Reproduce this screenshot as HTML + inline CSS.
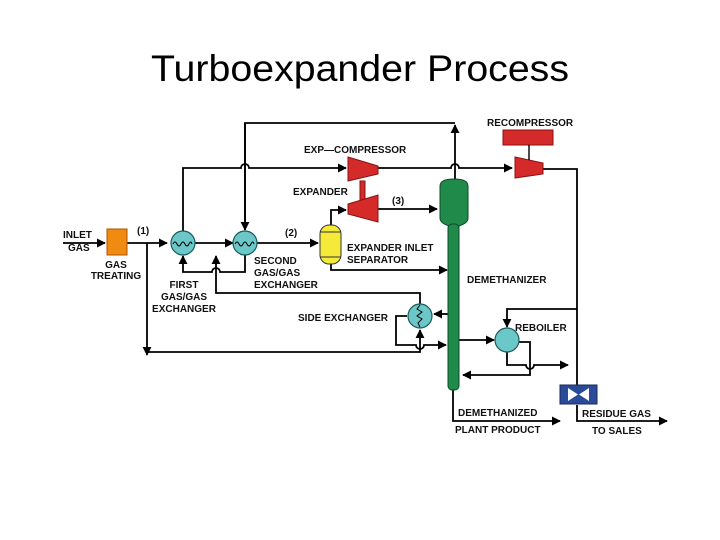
<!DOCTYPE html>
<html><head><meta charset="utf-8"><style>
html,body{margin:0;padding:0;background:#fff;}
svg{display:block;}
.t{font-family:"Liberation Sans",Arial,sans-serif;font-weight:bold;font-size:10px;fill:#111;}
</style></head><body>
<svg width="720" height="540" viewBox="0 0 720 540" xmlns="http://www.w3.org/2000/svg">
<defs>
<marker id="a" viewBox="0 0 10 10" refX="9" refY="5" markerWidth="5" markerHeight="5" orient="auto"><path d="M0,0 L10,5 L0,10 z" fill="#000"/></marker>
</defs>
<text x="360" y="81" text-anchor="middle" font-family="Liberation Sans, sans-serif" font-size="37" fill="#000" textLength="418" lengthAdjust="spacingAndGlyphs">Turboexpander Process</text>
<g stroke="#000" stroke-width="1.8" fill="none">
<path d="M63,243 H105" marker-end="url(#a)"/>
<path d="M127,243 H167" marker-end="url(#a)"/>
<path d="M147,243 V355" marker-end="url(#a)"/>
<path d="M191,243 H233" marker-end="url(#a)"/>
<path d="M257,243 H318" marker-end="url(#a)"/>
<path d="M245,230 V123 H455"/>
<path d="M245,123 V230" marker-end="url(#a)"/>
<path d="M455,180 V125" marker-end="url(#a)"/>
<path d="M183,231 V168 H241 a4,4 0 0 1 8,0 H346" marker-end="url(#a)"/>
<path d="M245,255 V272 H220 a4,4 0 0 0 -8,0 H183 V256" marker-end="url(#a)"/>
<path d="M420,304 V293 H216 V256" marker-end="url(#a)"/>
<path d="M331,225 V210 H346" marker-end="url(#a)"/>
<path d="M331,264 V270 H447" marker-end="url(#a)"/>
<path d="M378,209 H437" marker-end="url(#a)"/>
<path d="M378,168 H451 a4,4 0 0 1 8,0 H512" marker-end="url(#a)"/>
<path d="M543,169 H577 V395" marker-end="url(#a)"/>
<path d="M577,309 H507 V327" marker-end="url(#a)"/>
<path d="M459,340 H494" marker-end="url(#a)"/>
<path d="M507,352 V365 H526 a4,4 0 0 0 8,0 H568" marker-end="url(#a)"/>
<path d="M519,342 H530 V375 H463" marker-end="url(#a)"/>
<path d="M448,314 H434" marker-end="url(#a)"/>
<path d="M407,316 H396 V345 H416 a4,4 0 0 0 8,0 H446" marker-end="url(#a)"/>
<path d="M147,352 H420 V330" marker-end="url(#a)"/>
<path d="M453,390 V421 H560" marker-end="url(#a)"/>
<path d="M577,405 V421 H667" marker-end="url(#a)"/>
</g>
<rect x="107" y="229" width="20" height="26" fill="#f08a10" stroke="#b05000"/>
<g fill="#6cc8c8" stroke="#1a5a5a" stroke-width="1.2">
<circle cx="183" cy="243" r="12"/><circle cx="245" cy="243" r="12"/>
<circle cx="420" cy="316" r="12"/><circle cx="507" cy="340" r="12"/>
</g>
<g fill="none" stroke="#000" stroke-width="1">
<path d="M173,244 q2,-4 4,0 q2,4 4,0 q2,-4 4,0 q2,4 4,0 q2,-4 3,0"/>
<path d="M235,244 q2,-4 4,0 q2,4 4,0 q2,-4 4,0 q2,4 4,0 q2,-4 3,0"/>
<path d="M420,305 l-3,4 l5,3 l-5,4 l5,3 l-4,4 l2,4"/>
</g>
<rect x="320" y="225" width="21" height="39" rx="9" fill="#f5ea3a" stroke="#333"/>
<line x1="320" y1="232" x2="341" y2="232" stroke="#333"/>
<line x1="320" y1="257" x2="341" y2="257" stroke="#333"/>
<g fill="#d42a2a" stroke="#8a1010">
<polygon points="348,157 378,166 378,174 348,181"/>
<rect x="360" y="181" width="5" height="20"/>
<polygon points="348,204 378,195 378,222 348,214"/>
<rect x="503" y="130" width="50" height="15"/>
<polygon points="515,157 543,163 543,174 515,178"/>
</g>
<line x1="529" y1="145" x2="529" y2="160" stroke="#000" stroke-width="1.4"/>
<g fill="#1f8a4a" stroke="#0c4a24">
<path d="M440,186 q0,-7 14,-7 q14,0 14,7 V218 q0,5 -9,8 H449 q-9,-3 -9,-8 z"/>
<rect x="448" y="224" width="11" height="166" rx="4"/>
</g>
<rect x="560" y="385" width="37" height="19" fill="#2a4a9a" stroke="#1a2a5a"/>
<polygon points="568,388 578,394.5 568,401" fill="#fff"/>
<polygon points="589,388 579,394.5 589,401" fill="#fff"/>
<text class="t" x="63" y="238">INLET</text>
<text class="t" x="68" y="251">GAS</text>
<text class="t" x="137" y="234">(1)</text>
<text class="t" x="285" y="236">(2)</text>
<text class="t" x="392" y="204">(3)</text>
<text class="t" x="116" y="268" text-anchor="middle">GAS</text>
<text class="t" x="116" y="279" text-anchor="middle">TREATING</text>
<text class="t" x="184" y="288" text-anchor="middle">FIRST</text>
<text class="t" x="184" y="300" text-anchor="middle">GAS/GAS</text>
<text class="t" x="184" y="312" text-anchor="middle">EXCHANGER</text>
<text class="t" x="254" y="264">SECOND</text>
<text class="t" x="254" y="276">GAS/GAS</text>
<text class="t" x="254" y="288">EXCHANGER</text>
<text class="t" x="304" y="153">EXP—COMPRESSOR</text>
<text class="t" x="293" y="195">EXPANDER</text>
<text class="t" x="347" y="251">EXPANDER INLET</text>
<text class="t" x="347" y="263">SEPARATOR</text>
<text class="t" x="467" y="283">DEMETHANIZER</text>
<text class="t" x="298" y="321">SIDE EXCHANGER</text>
<text class="t" x="515" y="331">REBOILER</text>
<text class="t" x="487" y="126">RECOMPRESSOR</text>
<text class="t" x="458" y="416">DEMETHANIZED</text>
<text class="t" x="455" y="433">PLANT PRODUCT</text>
<text class="t" x="582" y="417">RESIDUE GAS</text>
<text class="t" x="592" y="434">TO SALES</text>
</svg>
</body></html>
